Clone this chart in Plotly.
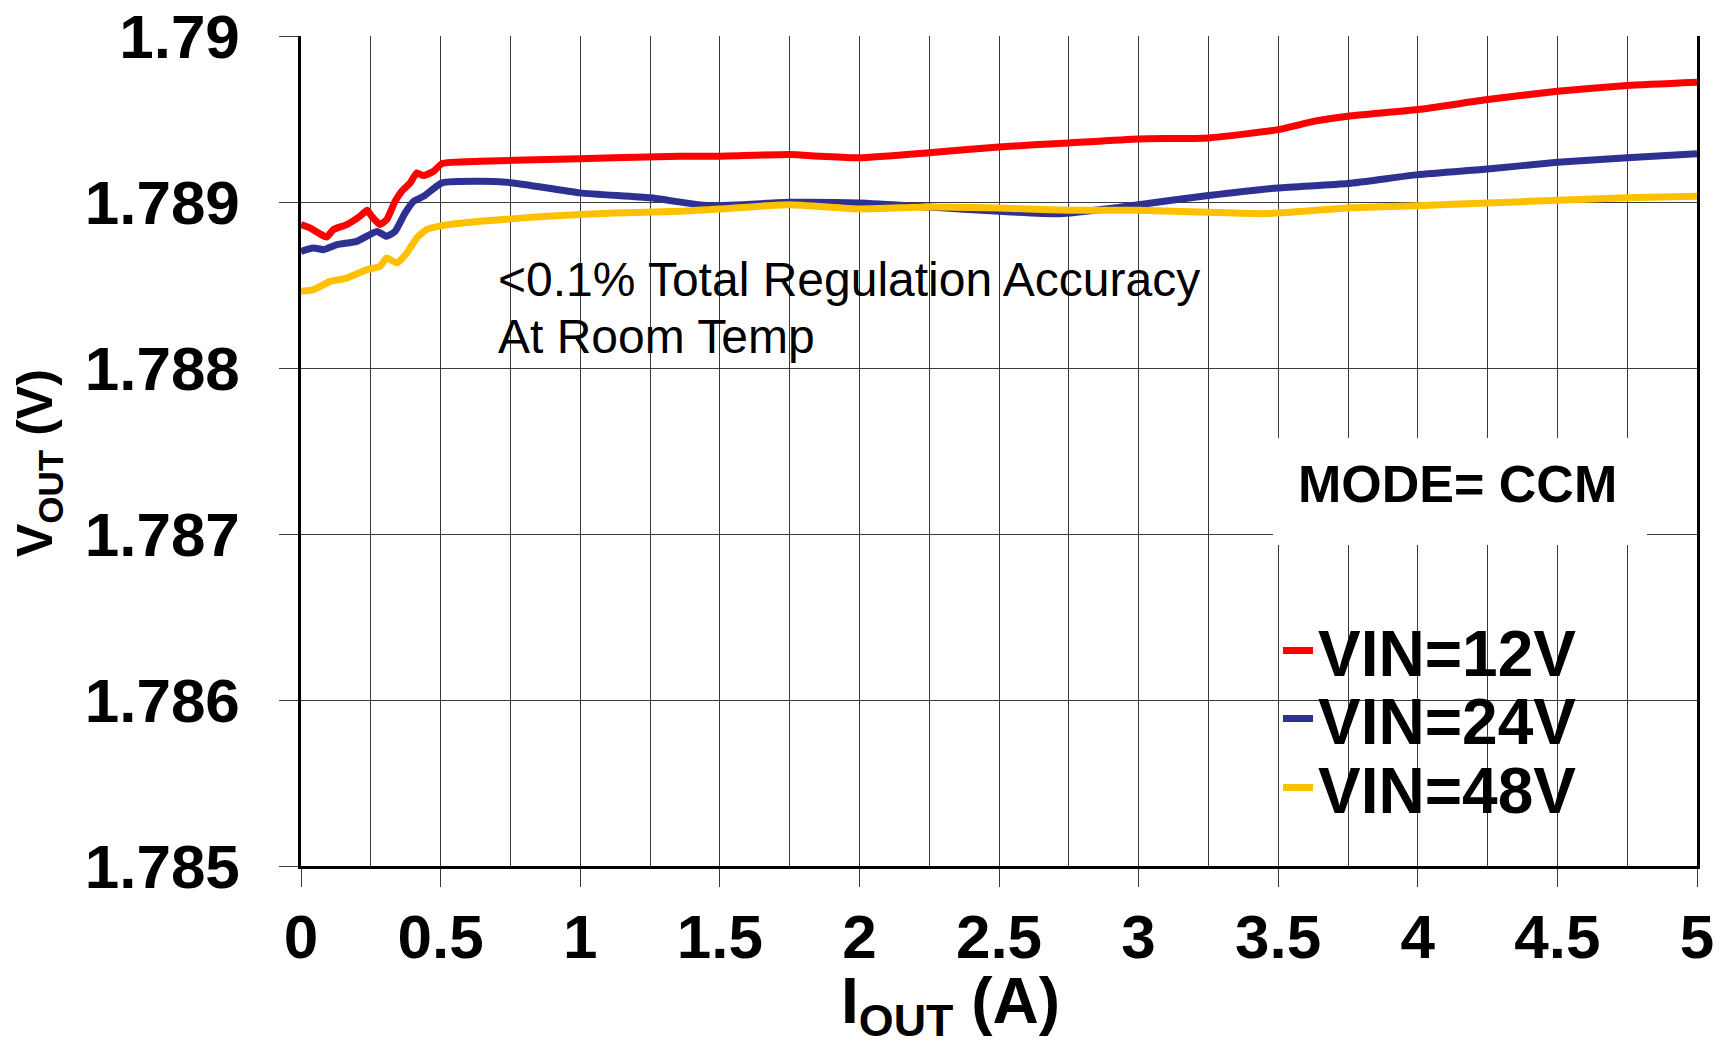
import plotly.graph_objects as go

# ---- data ----
x_12v = [0.000, 0.032, 0.062, 0.092, 0.116, 0.164, 0.211, 0.237, 0.253, 0.283, 0.307, 0.337,
         0.361, 0.391, 0.415, 0.439, 0.475, 0.505, 0.641, 0.880, 1.119, 1.357, 1.5, 1.75,
         1.86, 2.0, 2.25, 2.5, 2.75, 3.0, 3.25, 3.5, 3.63, 3.75, 4.0, 4.25, 4.5, 4.75, 5.0]
v_12v = [1.788864, 1.788844, 1.788814, 1.788789, 1.788834, 1.788864, 1.788914, 1.788950,
         1.788914, 1.788864, 1.788894, 1.789004, 1.789065, 1.789115, 1.789175, 1.789159,
         1.789185, 1.789231, 1.789245, 1.789256, 1.789266, 1.789275, 1.789276, 1.789286,
         1.789276, 1.789266, 1.789296, 1.789332, 1.789356, 1.789380, 1.789386, 1.789436,
         1.789487, 1.789517, 1.789557, 1.789617, 1.789667, 1.789702, 1.789722]

x_24v = [0.000, 0.045, 0.081, 0.129, 0.200, 0.272, 0.307, 0.337, 0.373, 0.403, 0.439, 0.505,
         0.641, 0.760, 0.999, 1.25, 1.46, 1.75, 2.0, 2.25, 2.5, 2.73, 3.0, 3.25, 3.5, 3.75,
         4.0, 4.25, 4.5, 4.75, 5.0]
v_24v = [1.788703, 1.788723, 1.788713, 1.788743, 1.788763, 1.788823, 1.788793, 1.788823,
         1.788934, 1.789004, 1.789034, 1.789115, 1.789125, 1.789115, 1.789055, 1.789025,
         1.788978, 1.788998, 1.788994, 1.788970, 1.788944, 1.788930, 1.788984, 1.789039,
         1.789085, 1.789111, 1.789165, 1.789199, 1.789239, 1.789266, 1.789290]

x_48v = [0.000, 0.045, 0.105, 0.164, 0.236, 0.283, 0.307, 0.343, 0.379, 0.415, 0.450, 0.505,
         0.641, 0.880, 1.119, 1.357, 1.5, 1.75, 2.0, 2.25, 2.5, 2.75, 3.0, 3.25, 3.46, 3.75,
         4.0, 4.25, 4.5, 4.75, 5.0]
v_48v = [1.788462, 1.788472, 1.788522, 1.788542, 1.788593, 1.788612, 1.788663, 1.788633,
         1.788693, 1.788784, 1.788834, 1.788858, 1.788884, 1.788914, 1.788934, 1.788944,
         1.788958, 1.788984, 1.788958, 1.788970, 1.788964, 1.788950, 1.788950, 1.788938,
         1.788930, 1.788964, 1.788978, 1.788994, 1.789010, 1.789025, 1.789034]

series_names = ["VIN=12V", "VIN=24V", "VIN=48V"]
series_colors = ["#FF0000", "#2E3192", "#FFC000"]

x_tickvals = [0, 0.5, 1, 1.5, 2, 2.5, 3, 3.5, 4, 4.5, 5]
x_ticktext = ["0", "0.5", "1", "1.5", "2", "2.5", "3", "3.5", "4", "4.5", "5"]
y_tickvals = [1.785, 1.786, 1.787, 1.788, 1.789, 1.790]
y_ticktext = ["1.785", "1.786", "1.787", "1.788", "1.789", "1.79"]

note_lines = ["&lt;0.1% Total Regulation Accuracy", "At Room Temp"]
mode_text = "MODE= CCM"

FONT = "Liberation Sans, Arial, sans-serif"
GRID = "#3a3a3a"

fig = go.Figure()
legend_ids = ["legend", "legend2", "legend3"]
for xs, ys, name, color, lg in zip([x_12v, x_24v, x_48v], [v_12v, v_24v, v_48v],
                                   series_names, series_colors, legend_ids):
    fig.add_trace(go.Scatter(x=xs, y=ys, mode="lines", name=name, legend=lg,
                             line=dict(color=color, width=7, shape="spline", smoothing=0.5)))

# plot area geometry (px)
W, H = 1728, 1046
ML, MR, MT, MB = 301, 31, 36, 180
PW, PH = W - ML - MR, H - MT - MB


def px_to_paper_x(px):
    return (px - ML) / PW


def px_to_paper_y(py):
    return (H - MB - py) / PH


legend_common = dict(bgcolor="rgba(0,0,0,0)", borderwidth=0,
                     font=dict(family=FONT, size=64, color="black", weight="bold"),
                     xanchor="left", yanchor="middle", x=px_to_paper_x(1278),
                     itemclick=False, itemdoubleclick=False)
layout_legends = {}
for lg, cy in zip(legend_ids, [651, 719, 788]):
    layout_legends[lg] = dict(legend_common, y=px_to_paper_y(cy))

annotations = []
for line_text, cy in zip(note_lines, [279, 336]):
    annotations.append(dict(text=line_text, xref="paper", yref="paper",
                            x=px_to_paper_x(496), y=px_to_paper_y(cy),
                            xanchor="left", yanchor="middle", align="left", showarrow=False,
                            font=dict(family=FONT, size=48, color="black")))
annotations += [
    dict(text=mode_text, xref="paper", yref="paper",
         x=px_to_paper_x(1457), y=px_to_paper_y(484), xanchor="center", yanchor="middle",
         showarrow=False,
         font=dict(family=FONT, size=52, color="black", weight="bold")),
    dict(text="I<sub>OUT</sub> (A)", xref="paper", yref="paper",
         x=px_to_paper_x(950), y=px_to_paper_y(1005), xanchor="center", yanchor="middle",
         showarrow=False, font=dict(family=FONT, size=64, color="black", weight="bold")),
    dict(text="V<sub>OUT</sub> (V)", xref="paper", yref="paper", textangle=-90,
         x=px_to_paper_x(38), y=px_to_paper_y(463), xanchor="center", yanchor="middle",
         showarrow=False,
         font=dict(family=FONT, size=50, color="black", weight="bold")),
]

fig.update_layout(
    width=W, height=H,
    margin=dict(l=ML, r=MR, t=MT, b=MB, pad=0, autoexpand=False),
    paper_bgcolor="white", plot_bgcolor="white",
    showlegend=True,
    **layout_legends,
    xaxis=dict(range=[0, 5], tickvals=x_tickvals, ticktext=x_ticktext,
               showgrid=True, gridcolor=GRID, gridwidth=1,
               minor=dict(dtick=0.25, tick0=0, showgrid=True, gridcolor=GRID, gridwidth=1),
               showline=True, linecolor="black", linewidth=2.5, mirror=False,
               ticks="outside", ticklen=18, tickwidth=1, tickcolor=GRID,
               ticklabelstandoff=-3, automargin=False,
               tickfont=dict(family=FONT, size=62, color="black", weight="bold"),
               zeroline=False, fixedrange=True),
    yaxis=dict(range=[1.785, 1.790], tickvals=y_tickvals, ticktext=y_ticktext,
               showgrid=True, gridcolor=GRID, gridwidth=1,
               showline=True, linecolor="black", linewidth=2.5, mirror=True,
               ticks="outside", ticklen=19, tickwidth=1, tickcolor=GRID,
               ticklabelstandoff=27, automargin=False,
               tickfont=dict(family=FONT, size=62, color="black", weight="bold"),
               zeroline=False, fixedrange=True),
    shapes=[dict(type="rect", xref="paper", yref="paper", layer="above",
                 x0=px_to_paper_x(1273), x1=px_to_paper_x(1647),
                 y0=px_to_paper_y(545), y1=px_to_paper_y(438),
                 fillcolor="white", line=dict(width=0))],
    annotations=annotations,
)

fig.write_html("out.html", config={"displayModeBar": False},
               post_script="document.body.style.margin='0';document.body.style.overflow='hidden';")
